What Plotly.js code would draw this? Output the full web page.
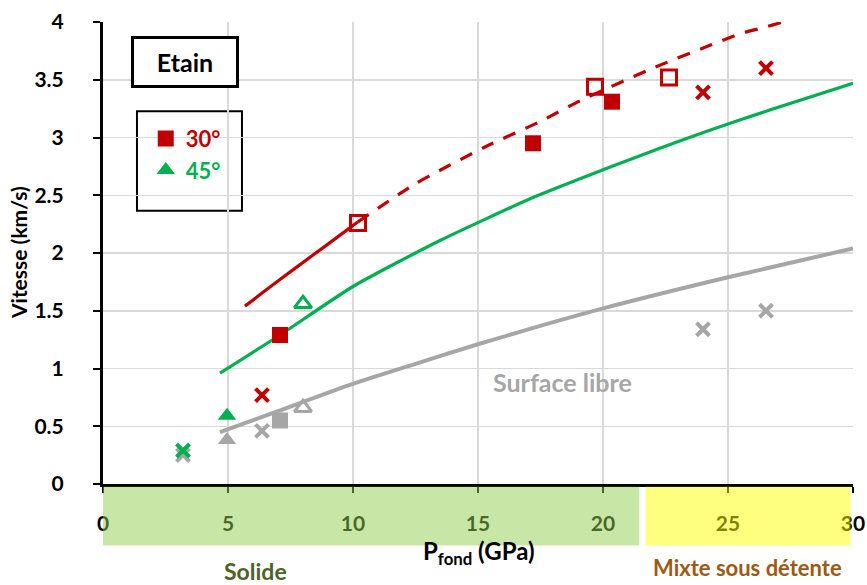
<!DOCTYPE html>
<html>
<head>
<meta charset="utf-8">
<script src="https://cdn.plot.ly/plotly-3.0.1.min.js"></script>
<style>html,body{margin:0;padding:0;background:#fff;}#chart{width:867px;height:585px;}</style>
</head>
<body>
<div id="chart"></div>
<script>
// ---- Data ----
const xTicks = [0, 5, 10, 15, 20, 25, 30];
const yTicks = [0, 0.5, 1, 1.5, 2, 2.5, 3, 3.5, 4];

// Model curves
const red30SolidX = [5.68, 6.4, 7.76, 9.08, 10.2];
const red30SolidY = [1.54, 1.66, 1.88, 2.09, 2.27];
const red30DashX = [10.2, 12.5, 15.3, 17.5, 19.1, 22.1, 24.3, 25.5, 26.4, 27.2, 28.2];
const red30DashY = [2.27, 2.60, 2.92, 3.14, 3.32, 3.61, 3.80, 3.90, 3.95, 4.00, 4.06];
const green45X = [4.68, 7.08, 10.0, 13.5, 17.2, 20.0, 22.3, 24.5, 26.7, 30.0];
const green45Y = [0.96, 1.29, 1.71, 2.11, 2.48, 2.72, 2.91, 3.08, 3.24, 3.47];
const grayFreeX = [4.68, 7.0, 9.9, 12.5, 15.0, 20.0, 25.0, 30.0];
const grayFreeY = [0.45, 0.63, 0.86, 1.04, 1.21, 1.52, 1.79, 2.04];

// Measured points, 30°
const red30FilledX = [7.08, 17.2, 20.36];
const red30FilledY = [1.29, 2.95, 3.31];
const red30OpenX = [10.2, 19.68, 22.64];
const red30OpenY = [2.26, 3.44, 3.52];
const red30CrossX = [6.36, 24.0, 26.52];
const red30CrossY = [0.77, 3.39, 3.60];

// Measured points, 45°
const green45FilledX = [4.96];
const green45FilledY = [0.59];
const green45OpenX = [8.0];
const green45OpenY = [1.56];
const green45CrossX = [3.2];
const green45CrossY = [0.29];

// Free surface points
const grayTriFilledX = [4.96];
const grayTriFilledY = [0.38];
const graySqFilledX = [7.08];
const graySqFilledY = [0.55];
const grayTriOpenX = [8.0];
const grayTriOpenY = [0.66];
const grayCrossX = [3.2, 6.36, 24.0, 26.52];
const grayCrossY = [0.25, 0.46, 1.34, 1.50];

// Regions along x
const regionSolid = [0, 21.45];
const regionMixte = [21.7, 29.9];

// ---- Styles ----
const RED = '#C00000', GREEN = '#00B050', GRAY = '#A6A6A6';
const FONT = 'Lato, "Liberation Sans", sans-serif';

function line(x, y, color, width, dash) {
  return {x, y, type: 'scatter', mode: 'lines', showlegend: false, hoverinfo: 'skip',
    line: {color, width, dash: dash || 'solid', shape: 'spline', smoothing: 0.6}};
}
function pts(x, y, symbol, color, size, lw, extra) {
  const t = {x, y, type: 'scatter', mode: 'markers', showlegend: false,
    marker: {symbol, size, color, line: {color, width: lw}}};
  return Object.assign(t, extra || {});
}

const traces = [
  line(grayFreeX, grayFreeY, GRAY, 4),
  line(green45X, green45Y, GREEN, 3.2),
  line(red30SolidX, red30SolidY, RED, 3.2),
  line(red30DashX, red30DashY, RED, 3.2, '13px,11px'),
  pts(grayCrossX, grayCrossY, 'x-thin-open', GRAY, 13, 4),
  pts(grayTriFilledX, grayTriFilledY, 'triangle-up', GRAY, 16, 0),
  pts(graySqFilledX, graySqFilledY, 'square', GRAY, 16, 0),
  pts(grayTriOpenX, grayTriOpenY, 'triangle-up-open', GRAY, 15, 3),
  pts(green45CrossX, green45CrossY, 'x-thin-open', GREEN, 13, 4),
  pts(green45OpenX, green45OpenY, 'triangle-up-open', GREEN, 15, 3),
  pts(red30CrossX, red30CrossY, 'x-thin-open', RED, 13, 4),
  pts(red30OpenX, red30OpenY, 'square-open', RED, 15, 3),
  pts(red30FilledX, red30FilledY, 'square', RED, 16, 0,
    {showlegend: true, name: '<b><span style="color:' + RED + '">30°</span></b>'}),
  pts(green45FilledX, green45FilledY, 'triangle-up', GREEN, 16, 0,
    {showlegend: true, name: '<b><span style="color:' + GREEN + '">45°</span></b>'})
];

const axisCommon = {
  showline: true, linecolor: '#000', linewidth: 3, mirror: false,
  ticks: 'outside', tickcolor: '#000', tickwidth: 2,
  showgrid: true, gridcolor: '#D9D9D9', gridwidth: 1.5,
  zeroline: false, fixedrange: true,
  tickfont: {family: FONT, size: 21, color: '#000', weight: 'bold'}
};

const layout = {
  width: 867, height: 585,
  margin: {l: 103, r: 14, t: 22, b: 101},
  paper_bgcolor: '#fff', plot_bgcolor: '#fff',
  font: {family: FONT},
  showlegend: true,
  legend: {x: 0.057, y: 0.793, xanchor: 'left', yanchor: 'top',
    bgcolor: 'rgba(0,0,0,0)', borderwidth: 0,
    font: {family: FONT, size: 22, weight: 'bold'}, itemwidth: 30, tracegroupgap: 0},
  xaxis: Object.assign({}, axisCommon, {range: [0, 30], tickvals: xTicks, ticktext: xTicks.map(String),
    ticklen: 6, ticklabelstandoff: 13}),
  yaxis: Object.assign({}, axisCommon, {range: [0, 4], tickvals: yTicks, ticktext: yTicks.map(String),
    ticklen: 7, ticklabelstandoff: 25}),
  shapes: [
    {type: 'rect', xref: 'x', yref: 'paper', x0: regionSolid[0], x1: regionSolid[1], y0: -0.006, y1: -0.133,
      fillcolor: '#92D050', opacity: 0.5, line: {width: 0}, layer: 'above'},
    {type: 'rect', xref: 'x', yref: 'paper', x0: regionMixte[0], x1: regionMixte[1], y0: -0.006, y1: -0.133,
      fillcolor: '#FFFF00', opacity: 0.5, line: {width: 0}, layer: 'above'},
    {type: 'rect', xref: 'paper', yref: 'paper', x0: 0.0453, x1: 0.1853, y0: 0.5913, y1: 0.807,
      fillcolor: '#fff', line: {color: '#000', width: 2}, layer: 'below'}
  ],
  annotations: [
    {text: '<b>Etain</b>', xref: 'paper', yref: 'paper', x: 0.1087, y: 0.913, showarrow: false,
      font: {family: FONT, size: 25, color: '#000'}, bordercolor: '#000', borderwidth: 3,
      width: 100, height: 44, bgcolor: '#fff', xanchor: 'center', yanchor: 'middle'},
    {text: '<b>Surface libre</b>', xref: 'x', yref: 'y', x: 18.36, y: 0.885, showarrow: false,
      font: {family: FONT, size: 25, color: GRAY}, xanchor: 'center', yanchor: 'middle'},
    {text: '<b>Vitesse (km/s)</b>', xref: 'paper', yref: 'paper', x: -0.1133, y: 0.5, textangle: -90,
      showarrow: false, font: {family: FONT, size: 21, color: '#000'}, xanchor: 'center', yanchor: 'middle'},
    {text: '<b>P<sub>fond</sub> (GPa)</b>', xref: 'paper', yref: 'paper', x: 0.5, y: -0.148,
      showarrow: false, font: {family: FONT, size: 24, color: '#000'}, xanchor: 'center', yanchor: 'middle'},
    {text: '<b>Solide</b>', xref: 'paper', yref: 'paper', x: 0.203, y: -0.1874, showarrow: false,
      font: {family: FONT, size: 23, color: '#4F6228'}, xanchor: 'center', yanchor: 'middle'},
    {text: '<b>Mixte sous détente</b>', xref: 'paper', yref: 'paper', x: 0.8587, y: -0.181, showarrow: false,
      font: {family: FONT, size: 22, color: '#9C5A14'}, xanchor: 'center', yanchor: 'middle'}
  ]
};

Plotly.newPlot('chart', traces, layout, {displayModeBar: false, staticPlot: true});
</script>
</body>
</html>
